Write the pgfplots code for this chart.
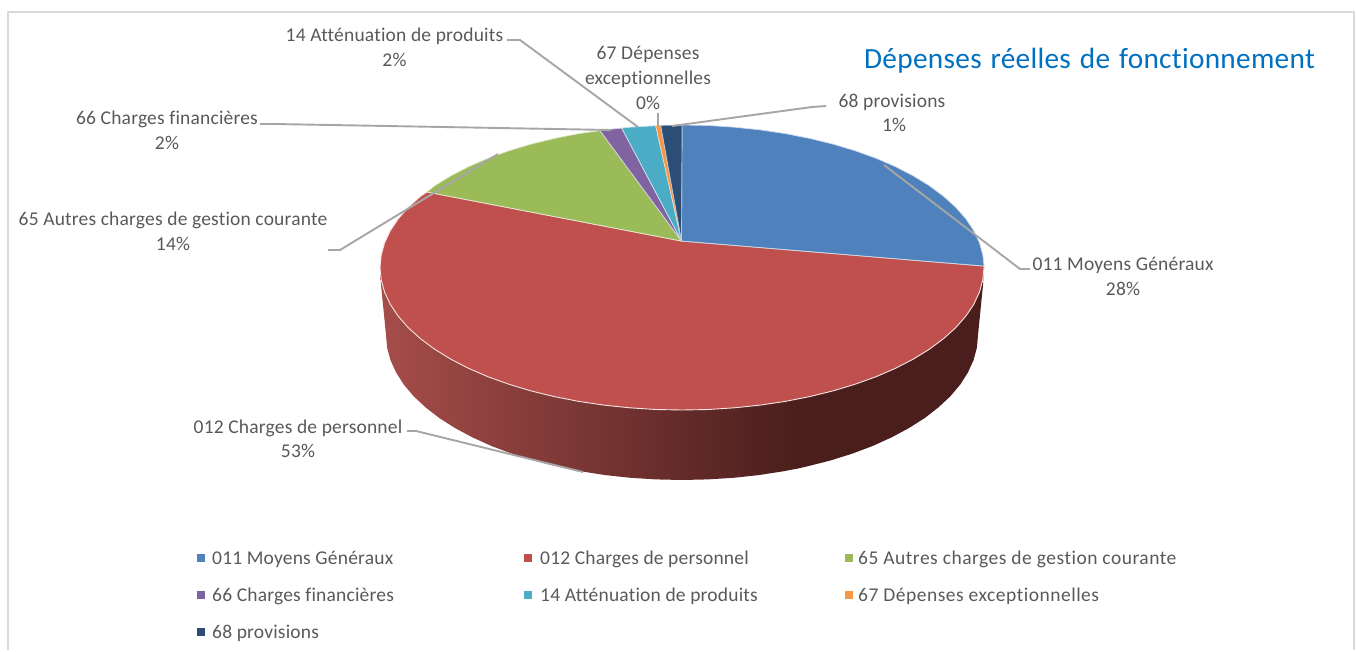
\documentclass[border=0pt]{standalone}
\usepackage{pgfplots}
\pgfplotsset{compat=1.18}
\usepackage{fontspec}
\setmainfont{Carlito}[Ligatures=NoCommon,LetterSpace=1]
\newfontfamily\ttlfont{Carlito}[Ligatures=NoCommon,LetterSpace=1,WordSpace=1.3]
\newfontfamily\widefont{Carlito}[Ligatures=NoCommon,LetterSpace=2.6]
\definecolor{cblue}{HTML}{4F81BD}
\definecolor{cred}{HTML}{C0504D}
\definecolor{cgreen}{HTML}{9BBB59}
\definecolor{cpurple}{HTML}{8064A2}
\definecolor{cteal}{HTML}{4BACC6}
\definecolor{corange}{HTML}{F79646}
\definecolor{cnavy}{HTML}{2C4D75}
\definecolor{wallL}{HTML}{A64D4A}
\definecolor{wallR}{HTML}{4A1E1C}
\definecolor{leader}{HTML}{A6A6A6}
\definecolor{txt}{HTML}{595959}
\definecolor{frameg}{HTML}{D9D9D9}
\definecolor{ttl}{HTML}{0070C0}
\newcommand{\lab}[3]{\node[anchor=base,text=txt,font=\fontsize{19.5}{21}\selectfont,inner sep=0pt] at (axis cs:#1,#2) {#3};}
\newcommand{\leg}[3]{\node[anchor=base west,text=txt,font=\fontsize{19.5}{21}\selectfont,inner sep=0pt] at (axis cs:#1,#2) {#3};}
\begin{document}
\begin{tikzpicture}
\begin{axis}[
  scale only axis, width=1356pt, height=650pt,
  xmin=0, xmax=1356, ymin=0, ymax=650, y dir=reverse,
  hide axis, clip=false,
  every axis plot/.append style={forget plot, line join=round},
]
% page extent
\addplot[draw=none, fill=none] coordinates {(0,0)(1356,650)};
% frame
\addplot[frameg, line width=2pt] coordinates {(8,650)(8,11.5)(1354,11.5)(1354,650)};
% side wall
\addplot[draw=none, left color=wallL, right color=wallR] coordinates {
(380,267.5)(381,285)(386,335)(387.1,347.6)(390.5,360.2)(396.1,372.5)(403.8,384.6)(413.7,396.3)(425.7,407.5)(439.5,418.2)(455.3,428.2)(472.7,437.5)(491.7,446.1)(512.2,453.8)(534,460.6)(556.9,466.4)(580.8,471.3)(605.4,475.1)(630.6,477.8)(656.2,479.4)(682,480)(707.8,479.4)(733.4,477.8)(758.6,475.1)(783.2,471.3)(800.5,468)(800.5,300)} --cycle;
\addplot[draw=none, fill=wallR] coordinates {
(800,300)(800,468)(807.1,466.4)(830,460.6)(851.8,453.8)(872.3,446.1)(891.3,437.5)(908.7,428.2)(924.5,418.2)(938.3,407.5)(950.3,396.3)(960.2,384.6)(967.9,372.5)(973.5,360.2)(976.9,347.6)(978,335)(983,285)(984,267.5)} --cycle;
% top surface
\addplot[fill=cred, draw=white!85!cred, line width=0.9pt] coordinates {
(681.5,241)(984,266)(984,267.5)(982.8,279.9)(979.4,292.2)(973.7,304.4)(965.8,316.2)(955.7,327.7)(943.5,338.7)(929.4,349.2)(913.3,359.1)(895.5,368.3)(876.1,376.7)(855.2,384.2)(833,390.9)(809.6,396.6)(785.3,401.4)(760.2,405.1)(734.4,407.8)(708.3,409.5)(682,410)(655.7,409.5)(629.6,407.8)(603.8,405.1)(578.7,401.4)(554.4,396.6)(531,390.9)(508.8,384.2)(487.9,376.7)(468.5,368.3)(450.7,359.1)(434.6,349.2)(420.5,338.7)(408.3,327.7)(398.2,316.2)(390.3,304.4)(384.6,292.2)(381.2,279.9)(380,267.5)(381.2,255.1)(384.6,242.8)(390.3,230.6)(398.2,218.8)(408.3,207.3)(420.5,196.3)(427,192)} --cycle;
\addplot[fill=cblue, draw=white!70!cblue, line width=0.7pt] coordinates {
(681.5,241)(682,125)(708.3,125.5)(734.4,127.2)(760.2,129.9)(785.3,133.6)(809.6,138.4)(833,144.1)(855.2,150.8)(876.1,158.3)(895.5,166.7)(913.3,175.9)(929.4,185.8)(943.5,196.3)(955.7,207.3)(965.8,218.8)(973.7,230.6)(979.4,242.8)(982.8,255.1)(984,266)} --cycle;
\addplot[fill=cgreen, draw=white!70!cgreen, line width=0.7pt] coordinates {
(681.5,241)(427,192)(434.6,185.8)(450.7,175.9)(468.5,166.7)(487.9,158.3)(508.8,150.8)(531,144.1)(554.4,138.4)(578.7,133.6)(600,130.6)} --cycle;
\addplot[fill=cpurple, draw=white!70!cpurple, line width=0.7pt] coordinates {
(681.5,241)(600,130.6)(603.8,129.9)(621.7,128.1)} --cycle;
\addplot[fill=cteal, draw=white!70!cteal, line width=0.7pt] coordinates {
(681.5,241)(621.7,128.1)(629.6,127.2)(655.7,125.7)} --cycle;
\addplot[fill=corange, draw=white!70!corange, line width=0.5pt] coordinates {
(681.5,241)(655.7,125.7)(660.7,125.3)} --cycle;
\addplot[fill=cnavy, draw=white!70!cnavy, line width=0.7pt] coordinates {
(681.5,241)(660.7,125.3)(682,125)} --cycle;
% leader lines
\addplot[leader, line width=1.9pt] coordinates {(1030,269)(1020,269)(884,165)};
\addplot[leader, line width=1.9pt] coordinates {(407,431)(416,431)(583,472)};
\addplot[leader, line width=1.9pt] coordinates {(328,250)(340,250)(498,154)};
\addplot[leader, line width=1.9pt] coordinates {(260,124)(275,124)(611,130)};
\addplot[leader, line width=1.9pt] coordinates {(507,40)(520,40)(638,127)};
\addplot[leader, line width=1.9pt] coordinates {(657.7,113)(657.7,126)};
\addplot[leader, line width=1.9pt] coordinates {(826,106)(812,107)(672,126)};
% legend markers
\addplot[cblue, only marks, mark=square*, mark size=3.5pt, mark options={solid, fill=cblue, draw=cblue, line width=0pt}] coordinates {(201,557.5)};
\addplot[cred, only marks, mark=square*, mark size=3.5pt, mark options={solid, fill=cred, draw=cred, line width=0pt}] coordinates {(528,557.5)};
\addplot[cgreen, only marks, mark=square*, mark size=3.5pt, mark options={solid, fill=cgreen, draw=cgreen, line width=0pt}] coordinates {(849,557.5)};
\addplot[cpurple, only marks, mark=square*, mark size=3.5pt, mark options={solid, fill=cpurple, draw=cpurple, line width=0pt}] coordinates {(201,594.5)};
\addplot[cteal, only marks, mark=square*, mark size=3.5pt, mark options={solid, fill=cteal, draw=cteal, line width=0pt}] coordinates {(528,594.5)};
\addplot[corange, only marks, mark=square*, mark size=3.5pt, mark options={solid, fill=corange, draw=corange, line width=0pt}] coordinates {(849,594.5)};
\addplot[cnavy, only marks, mark=square*, mark size=3.5pt, mark options={solid, fill=cnavy, draw=cnavy, line width=0pt}] coordinates {(201,631.5)};
% labels
\node[anchor=base west,text=ttl,font=\fontsize{29.3}{32}\ttlfont,inner sep=0pt] at (axis cs:864,68) {Dépenses réelles de fonctionnement};
\lab{394.5}{41}{14 Atténuation de produits}
\lab{394.5}{66}{2\%}
\lab{648}{59}{67 Dépenses}
\lab{648}{84}{exceptionnelles}
\lab{648}{109}{0\%}
\lab{892}{107}{68 provisions}
\lab{894}{131}{1\%}
\lab{167}{124}{66 Charges financières}
\lab{167}{149}{2\%}
\lab{173}{225}{65 Autres charges de gestion courante}
\lab{173}{250}{14\%}
\lab{1123}{270}{011 Moyens Généraux}
\lab{1123}{295}{28\%}
\lab{298}{433}{012 Charges de personnel}
\lab{298}{457}{53\%}
\leg{212}{564}{011 Moyens Généraux}
\leg{540}{564}{012 Charges de personnel}
\leg{858}{564}{\widefont 65 Autres charges de gestion courante}
\leg{212}{601}{66 Charges financières}
\leg{540}{601}{14 Atténuation de produits}
\leg{858}{601}{\widefont 67 Dépenses exceptionnelles}
\leg{212}{638}{68 provisions}
\end{axis}
\end{tikzpicture}
\end{document}
